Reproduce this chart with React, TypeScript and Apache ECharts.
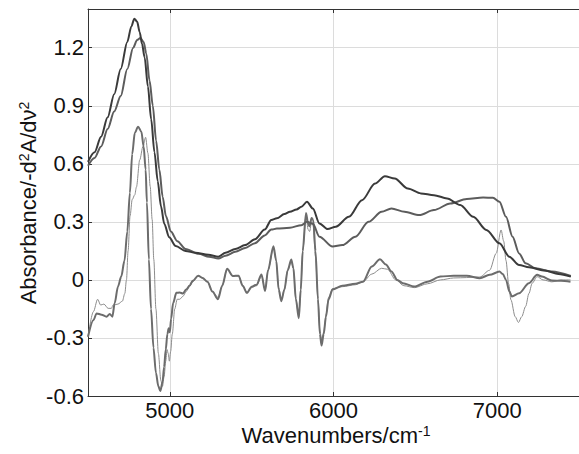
import React, { useEffect, useRef } from "react";
import * as echarts from "echarts";

// Absorbance spectrum 1 (dark)
const wnA1 = [4500,4540,4580,4620,4660,4700,4740,4765,4783,4800,4816,4830,4846,4866,4886,4906,4926,4946,4966,4996,5036,5096,5156,5236,5296,5340,5400,5460,5520,5580,5620,5654,5700,5734,5774,5804,5838,5874,5914,5964,6014,6094,6174,6254,6314,6374,6454,6534,6614,6694,6774,6854,6934,7014,7074,7134,7194,7294,7374,7450];
const absA1 = [0.61,0.66,0.74,0.84,0.96,1.09,1.23,1.31,1.35,1.335,1.28,1.22,1.15,1.0,0.83,0.66,0.51,0.38,0.29,0.22,0.175,0.15,0.14,0.13,0.12,0.14,0.16,0.18,0.21,0.26,0.31,0.318,0.34,0.352,0.364,0.378,0.404,0.369,0.292,0.263,0.275,0.326,0.412,0.498,0.536,0.524,0.472,0.447,0.438,0.421,0.387,0.326,0.258,0.189,0.12,0.077,0.065,0.048,0.031,0.017];

// Absorbance spectrum 2 (medium)
const wnA2 = [4500,4540,4580,4620,4660,4700,4740,4776,4800,4820,4840,4856,4876,4896,4916,4936,4956,4976,5006,5046,5096,5176,5240,5296,5340,5400,5460,5520,5580,5620,5654,5734,5804,5838,5874,5914,5994,6054,6134,6214,6294,6354,6434,6524,6614,6714,6814,6914,6974,7014,7054,7094,7134,7174,7234,7334,7450];
const absA2 = [0.59,0.63,0.69,0.78,0.87,0.95,1.09,1.2,1.24,1.25,1.23,1.17,1.03,0.9,0.72,0.57,0.43,0.33,0.25,0.2,0.16,0.135,0.12,0.11,0.125,0.145,0.165,0.19,0.23,0.26,0.265,0.27,0.283,0.3,0.29,0.223,0.172,0.18,0.223,0.3,0.352,0.369,0.352,0.335,0.361,0.395,0.418,0.426,0.424,0.404,0.326,0.223,0.137,0.086,0.06,0.043,0.02];

// Second derivative 1 (thick)
const wnD1 = [4500,4533,4553,4583,4613,4633,4649,4663,4683,4703,4723,4740,4756,4770,4786,4806,4826,4840,4852,4860,4872,4885,4900,4915,4930,4942,4955,4965,4975,4985,4993,5000,5008,5020,5040,5060,5080,5100,5120,5140,5173,5200,5230,5260,5294,5320,5350,5385,5420,5445,5471,5500,5530,5560,5582,5600,5633,5650,5665,5681,5700,5720,5742,5755,5770,5788,5800,5812,5832,5845,5854,5866,5876,5890,5905,5917,5927,5940,5954,5970,5994,6054,6134,6180,6234,6284,6320,6354,6390,6424,6494,6574,6654,6734,6814,6894,6954,7014,7035,7054,7075,7090,7134,7194,7244,7274,7334,7390,7448];
const derD1 = [-0.294,-0.208,-0.173,-0.18,-0.19,-0.176,-0.19,-0.12,-0.035,0.017,0.1,0.25,0.45,0.65,0.76,0.792,0.766,0.69,0.57,0.4,0.106,-0.15,-0.35,-0.48,-0.55,-0.574,-0.53,-0.45,-0.36,-0.28,-0.25,-0.27,-0.2,-0.12,-0.067,-0.065,-0.07,-0.05,-0.03,-0.005,0.022,0.01,-0.01,-0.06,-0.1,-0.03,0.057,0.02,0.022,-0.03,-0.067,-0.035,-0.025,0.028,-0.058,0.05,0.174,0.1,-0.05,-0.11,-0.05,0.05,0.105,0.06,-0.1,-0.198,-0.05,0.15,0.346,0.29,0.277,0.32,0.31,0.15,-0.1,-0.28,-0.339,-0.28,-0.19,-0.1,-0.05,-0.03,-0.02,-0.01,0.069,0.107,0.08,0.043,0.0,-0.017,-0.034,-0.009,0.017,0.022,0.021,0.009,0.026,0.043,0.03,0.0,-0.06,-0.086,-0.069,-0.017,0.026,0.017,-0.003,-0.005,-0.009];

// Second derivative 2 (thin)
const wnD2 = [4500,4533,4559,4577,4597,4623,4643,4653,4683,4710,4725,4735,4745,4757,4770,4786,4796,4816,4836,4852,4866,4880,4892,4902,4915,4930,4945,4955,4965,4975,4983,4990,4997,5005,5015,5030,5045,5060,5080,5100,5120,5140,5173,5200,5230,5260,5294,5320,5350,5385,5420,5445,5471,5500,5530,5560,5582,5600,5633,5650,5665,5681,5700,5720,5742,5755,5770,5788,5800,5812,5832,5845,5854,5866,5876,5890,5905,5917,5927,5940,5954,5970,5994,6054,6134,6180,6234,6294,6330,6380,6430,6494,6574,6654,6734,6814,6894,6954,6994,7024,7040,7054,7070,7084,7110,7130,7150,7174,7194,7214,7244,7280,7334,7390,7448];
const derD2 = [-0.294,-0.164,-0.1,-0.13,-0.125,-0.147,-0.147,-0.13,-0.125,-0.11,-0.07,0.0,0.15,0.33,0.415,0.44,0.48,0.62,0.69,0.737,0.655,0.483,0.312,0.106,-0.15,-0.38,-0.52,-0.55,-0.5,-0.42,-0.36,-0.38,-0.42,-0.37,-0.28,-0.15,-0.1,-0.1,-0.085,-0.06,-0.035,-0.01,0.02,0.01,-0.01,-0.06,-0.09,-0.03,0.055,0.02,0.02,-0.03,-0.065,-0.04,-0.03,0.02,-0.05,0.05,0.165,0.1,-0.04,-0.1,-0.05,0.05,0.095,0.06,-0.1,-0.19,-0.05,0.15,0.33,0.26,0.25,0.3,0.28,0.12,-0.1,-0.26,-0.31,-0.27,-0.18,-0.09,-0.045,-0.035,-0.025,-0.01,0.03,0.06,0.055,0.0,-0.03,-0.04,-0.02,0.0,0.01,0.012,0.015,0.05,0.137,0.258,0.2,0.1,-0.02,-0.103,-0.19,-0.22,-0.19,-0.137,-0.07,-0.017,0.017,0.0,-0.01,0.0,0.0];

const yTicks = [-0.6, -0.3, 0, 0.3, 0.6, 0.9, 1.2];
const xTicks = [5000, 6000, 7000];

const FONT = "'Liberation Sans', Arial, Helvetica, sans-serif";

export default function App() {
  const ref = useRef<HTMLDivElement>(null);
  useEffect(() => {
    const chart = echarts.init(ref.current!, null, { renderer: "svg" });
    const pairs = (xs: number[], ys: number[]) => xs.map((x, i) => [x, ys[i]]);
    const axisCol = "#333333";
    const xCommon = {
      type: "value",
      min: 4500,
      max: 7500,
      splitNumber: 3,
      minInterval: 1000,
      maxInterval: 1000,
    };
    chart.setOption({
      animation: false,
      grid: { left: 88, right: -8, top: 9, bottom: 58, containLabel: false },
      xAxis: [
        {
          ...xCommon,
          position: "bottom",
          axisLine: { show: true, onZero: false, lineStyle: { color: axisCol, width: 1 } },
          axisTick: { show: true, inside: true, length: 4, lineStyle: { color: axisCol } },
          axisLabel: {
            show: true,
            showMinLabel: false,
            showMaxLabel: false,
            margin: 3,
            color: "#111",
            fontSize: 22,
            lineHeight: 22,
            fontFamily: FONT,
            formatter: (v: number) => (xTicks.indexOf(Math.round(v)) >= 0 ? String(Math.round(v)) : ""),
          },
          splitLine: { show: true, lineStyle: { color: "#dcdcdc", width: 1 } },
        },
        {
          ...xCommon,
          position: "top",
          axisLine: { show: true, onZero: false, lineStyle: { color: axisCol, width: 1 } },
          axisTick: { show: true, inside: true, length: 4, lineStyle: { color: axisCol } },
          axisLabel: { show: false },
          splitLine: { show: false },
        },
      ],
      yAxis: {
        type: "value",
        min: -0.6,
        max: 1.4,
        interval: 0.3,
        axisLine: { show: true, onZero: false, lineStyle: { color: axisCol, width: 1 } },
        axisTick: { show: true, inside: true, length: 4, lineStyle: { color: axisCol } },
        axisLabel: {
          showMaxLabel: false,
          margin: 4,
          color: "#111",
          fontSize: 22,
          fontFamily: FONT,
          formatter: (v: number) => {
            const t = yTicks.find((k) => Math.abs(k - v) < 1e-6);
            if (t === undefined) return "";
            return t === 0 ? "0" : t.toFixed(1);
          },
        },
        splitLine: { show: true, lineStyle: { color: "#dcdcdc", width: 1 } },
      },
      graphic: [
        {
          type: "text",
          x: 336,
          y: 435,
          style: {
            text: "{a|Wavenumbers/cm}{b|-1}",
            align: "center",
            verticalAlign: "middle",
            fill: "#111",
            rich: {
              a: { fontSize: 22, lineHeight: 22, fontFamily: FONT, fill: "#111", verticalAlign: "bottom" },
              b: { fontSize: 14, lineHeight: 22, fontFamily: FONT, fill: "#111", verticalAlign: "top" },
            },
          },
        },
        {
          type: "text",
          x: 28,
          y: 203,
          rotation: Math.PI / 2,
          style: {
            text: "{a|Absorbance/-d}{b|2}{a|A/dν}{b|2}",
            align: "center",
            verticalAlign: "middle",
            fill: "#111",
            rich: {
              a: { fontSize: 22, fontFamily: FONT, fill: "#111", verticalAlign: "bottom" },
              b: { fontSize: 14, fontFamily: FONT, fill: "#111", verticalAlign: "top" },
            },
          },
        },
      ],
      series: [
        {
          type: "line",
          data: pairs(wnD2, derD2),
          showSymbol: false,
          smooth: 0.3,
          smoothMonotone: "x",
          lineStyle: { color: "#8c8c8c", width: 1 },
          z: 1,
        },
        {
          type: "line",
          data: pairs(wnD1, derD1),
          showSymbol: false,
          smooth: 0.3,
          smoothMonotone: "x",
          lineStyle: { color: "#6c6c6c", width: 2 },
          z: 2,
        },
        {
          type: "line",
          data: pairs(wnA2, absA2),
          showSymbol: false,
          smooth: 0.3,
          smoothMonotone: "x",
          lineStyle: { color: "#5c5c5c", width: 2 },
          z: 3,
        },
        {
          type: "line",
          data: pairs(wnA1, absA1),
          showSymbol: false,
          smooth: 0.3,
          smoothMonotone: "x",
          lineStyle: { color: "#3a3a3a", width: 2 },
          z: 4,
        },
      ],
    });
    return () => chart.dispose();
  }, []);
  return (
    <div
      ref={ref}
      style={{ position: "fixed", left: 0, top: 0, width: 579, height: 454, background: "#fff" }}
    />
  );
}
